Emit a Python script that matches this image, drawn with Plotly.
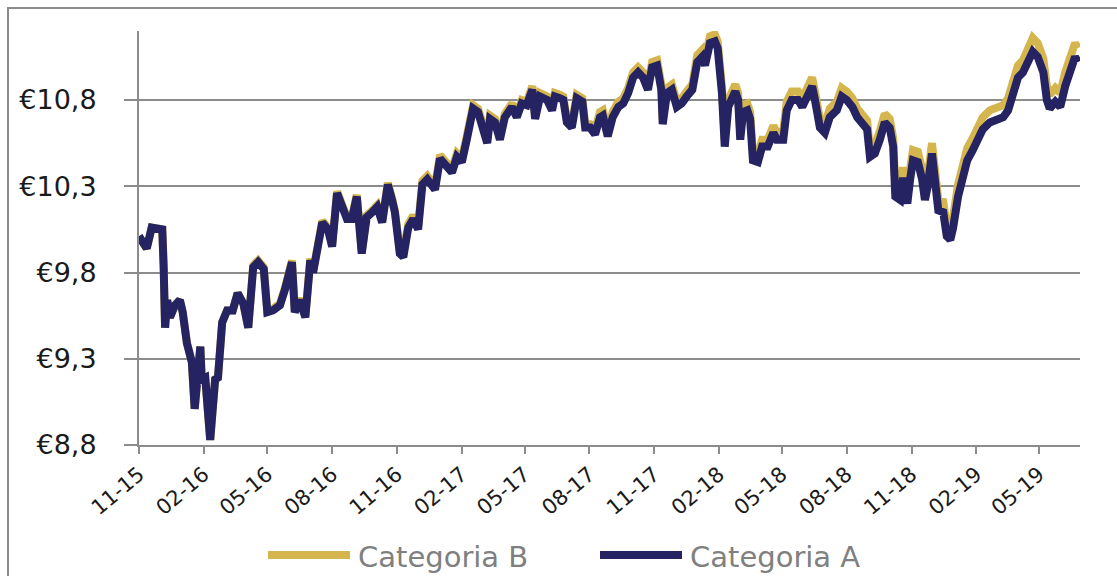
import plotly.graph_objects as go

dates = ["2015-11-01","2015-11-12","2015-11-19","2015-11-28","2015-12-04","2015-12-06","2015-12-08","2015-12-11","2015-12-15","2015-12-22",
"2015-12-29","2016-01-02","2016-01-08","2016-01-15","2016-01-19","2016-01-27","2016-01-29","2016-02-03","2016-02-10","2016-02-17",
"2016-02-21","2016-02-27","2016-03-05","2016-03-13","2016-03-20","2016-03-28","2016-04-04","2016-04-11","2016-04-18","2016-04-26",
"2016-05-01","2016-05-09","2016-05-19","2016-05-26","2016-06-01","2016-06-05","2016-06-09","2016-06-16","2016-06-24","2016-06-28",
"2016-07-01","2016-07-05","2016-07-12","2016-07-18","2016-07-26","2016-08-01","2016-08-08","2016-08-15","2016-08-22","2016-08-29",
"2016-09-05","2016-09-12","2016-09-19","2016-09-27","2016-10-04","2016-10-11","2016-10-19","2016-10-25","2016-10-29","2016-11-05",
"2016-11-10","2016-11-17","2016-11-24","2016-12-01","2016-12-07","2016-12-14","2016-12-21","2016-12-25","2017-01-01","2017-01-08",
"2017-01-18","2017-01-25","2017-02-01","2017-02-08","2017-02-17","2017-02-24","2017-03-03","2017-03-09","2017-03-13","2017-03-20",
"2017-03-27","2017-04-03","2017-04-13","2017-04-20","2017-04-27","2017-05-04","2017-05-12","2017-05-16","2017-05-23","2017-06-02",
"2017-06-09","2017-06-13","2017-06-20","2017-06-25","2017-06-30","2017-07-07","2017-07-14","2017-07-22","2017-07-26","2017-08-02",
"2017-08-09","2017-08-16","2017-08-20","2017-08-27","2017-09-03","2017-09-11","2017-09-18","2017-09-25","2017-10-02","2017-10-09",
"2017-10-16","2017-10-23","2017-10-29","2017-11-05","2017-11-11","2017-11-13","2017-11-19","2017-11-26","2017-12-03","2017-12-10",
"2017-12-17","2017-12-25","2018-01-01","2018-01-08","2018-01-12","2018-01-19","2018-01-26","2018-01-30","2018-02-05","2018-02-07",
"2018-02-09","2018-02-14","2018-02-19","2018-02-24","2018-02-28","2018-03-03","2018-03-07","2018-03-13","2018-03-17","2018-03-21",
"2018-03-28","2018-04-03","2018-04-11","2018-04-19","2018-04-24","2018-05-03","2018-05-08","2018-05-15","2018-05-24","2018-05-30",
"2018-06-06","2018-06-13","2018-06-17","2018-06-24","2018-07-01","2018-07-08","2018-07-18","2018-07-25","2018-08-01","2018-08-09",
"2018-08-16","2018-08-23","2018-08-30","2018-09-03","2018-09-10","2018-09-17","2018-09-24","2018-10-01","2018-10-06","2018-10-09",
"2018-10-16","2018-10-20","2018-10-26","2018-10-30","2018-11-03","2018-11-10","2018-11-16","2018-11-20","2018-11-24","2018-11-30",
"2018-12-04","2018-12-09","2018-12-16","2018-12-21","2018-12-26","2018-12-30","2019-01-06","2019-01-12","2019-01-19","2019-01-27",
"2019-02-03","2019-02-10","2019-02-20","2019-03-02","2019-03-11","2019-03-18","2019-03-25","2019-04-01","2019-04-08","2019-04-15",
"2019-04-22","2019-04-29","2019-05-07","2019-05-12","2019-05-16","2019-05-24","2019-05-31","2019-06-07","2019-06-14","2019-06-21",
"2019-06-25"]

categoria_a = [10.01,9.94,10.06,10.05,10.05,9.83,9.48,9.64,9.54,9.61,
9.64,9.57,9.39,9.28,9.01,9.37,9.18,9.19,8.83,9.18,
9.19,9.51,9.58,9.58,9.68,9.62,9.48,9.83,9.86,9.82,
9.57,9.58,9.61,9.70,9.80,9.86,9.57,9.64,9.54,9.72,
9.87,9.80,9.96,10.09,10.05,9.95,10.26,10.18,10.11,10.11,
10.24,9.91,10.12,10.15,10.18,10.09,10.31,10.22,10.15,9.91,
9.89,10.06,10.11,10.05,10.31,10.34,10.30,10.28,10.46,10.42,
10.38,10.47,10.44,10.57,10.75,10.73,10.64,10.55,10.69,10.67,
10.57,10.70,10.76,10.70,10.78,10.77,10.86,10.69,10.82,10.80,
10.74,10.82,10.81,10.80,10.67,10.64,10.81,10.79,10.64,10.64,
10.60,10.70,10.71,10.59,10.70,10.76,10.78,10.84,10.93,10.96,
10.93,10.86,10.99,11.00,10.86,10.66,10.84,10.86,10.76,10.78,
10.82,10.86,11.02,11.05,11.00,11.13,11.14,11.10,10.84,10.63,
10.53,10.76,10.80,10.85,10.80,10.57,10.73,10.74,10.69,10.45,
10.44,10.53,10.53,10.61,10.57,10.57,10.74,10.80,10.80,10.76,
10.82,10.88,10.80,10.64,10.61,10.70,10.74,10.82,10.80,10.76,
10.70,10.67,10.63,10.47,10.49,10.57,10.67,10.64,10.53,10.24,
10.22,10.35,10.20,10.34,10.45,10.44,10.34,10.22,10.30,10.49,
10.34,10.16,10.15,10.01,9.99,10.06,10.24,10.34,10.45,10.51,
10.57,10.63,10.67,10.69,10.70,10.74,10.82,10.93,10.96,11.03,
11.08,11.05,10.96,10.80,10.75,10.79,10.76,10.88,10.96,11.05,
11.02]

categoria_b = [10.01,9.94,10.06,10.05,10.05,9.83,9.48,9.64,9.54,9.61,
9.64,9.57,9.39,9.28,9.01,9.37,9.18,9.19,8.83,9.18,
9.19,9.51,9.58,9.58,9.68,9.62,9.48,9.84,9.87,9.83,
9.58,9.59,9.62,9.71,9.81,9.87,9.58,9.65,9.55,9.73,
9.88,9.81,9.97,10.10,10.06,9.96,10.27,10.19,10.12,10.12,
10.25,9.92,10.13,10.16,10.19,10.10,10.32,10.23,10.16,9.93,
9.91,10.08,10.13,10.07,10.33,10.36,10.32,10.30,10.48,10.44,
10.40,10.49,10.46,10.59,10.77,10.75,10.66,10.57,10.71,10.69,
10.59,10.72,10.78,10.72,10.80,10.79,10.88,10.71,10.84,10.82,
10.76,10.84,10.83,10.82,10.69,10.66,10.83,10.81,10.66,10.66,
10.63,10.73,10.74,10.62,10.73,10.79,10.81,10.87,10.96,10.99,
10.96,10.89,11.02,11.03,10.89,10.69,10.87,10.89,10.79,10.81,
10.85,10.89,11.06,11.09,11.04,11.17,11.18,11.14,10.88,10.67,
10.57,10.80,10.84,10.89,10.84,10.61,10.77,10.78,10.73,10.49,
10.48,10.57,10.57,10.65,10.61,10.62,10.79,10.85,10.85,10.81,
10.87,10.93,10.85,10.69,10.66,10.75,10.79,10.87,10.85,10.81,
10.75,10.72,10.68,10.52,10.54,10.62,10.72,10.69,10.58,10.30,
10.28,10.41,10.26,10.40,10.51,10.50,10.40,10.28,10.36,10.55,
10.40,10.22,10.21,10.07,10.05,10.12,10.31,10.41,10.52,10.58,
10.64,10.70,10.74,10.76,10.77,10.81,10.89,11.00,11.03,11.10,
11.16,11.13,11.04,10.88,10.83,10.87,10.84,10.96,11.04,11.13,
11.10]

x_tick_dates = ["2015-11-01","2016-02-01","2016-05-01","2016-08-01","2016-11-01","2017-02-01","2017-05-01",
                "2017-08-01","2017-11-01","2018-02-01","2018-05-01","2018-08-01","2018-11-01","2019-02-01","2019-05-01"]
x_tick_labels = ["11-15","02-16","05-16","08-16","11-16","02-17","05-17","08-17","11-17","02-18","05-18",
                 "08-18","11-18","02-19","05-19"]
y_tick_values = [8.8, 9.3, 9.8, 10.3, 10.8]
y_tick_labels = ["€8,8", "€9,3", "€9,8", "€10,3", "€10,8"]
series_names = ["Categoria B", "Categoria A"]
series_colors = ["#D5B64E", "#252361"]

W, H = 1117, 576
L, R, T, B = 139, 37, 31, 131
PW, PH = W - L - R, H - T - B

def px(xp):
    return (xp - L) / PW

def py(yp):
    return (H - B - yp) / PH

fig = go.Figure()
for name, vals, col in zip(series_names, [categoria_b, categoria_a], series_colors):
    fig.add_trace(go.Scatter(x=dates, y=vals, mode="lines", name=name,
                             line=dict(color=col, width=8), showlegend=False))

grid = "#8C8C8C"
fig.update_layout(
    width=W, height=H,
    margin=dict(l=L, r=R, t=T, b=B, pad=0),
    paper_bgcolor="white", plot_bgcolor="white",
    font=dict(family="DejaVu Sans", color="#1A1A1A"),
    xaxis=dict(type="date", range=["2015-11-01", "2019-06-28"],
               tickvals=x_tick_dates, ticktext=x_tick_labels, tickangle=-40,
               tickfont=dict(size=21, family="DejaVu Sans", color="#1A1A1A"),
               showgrid=False, zeroline=False, showline=True, linecolor=grid, linewidth=2,
               ticks="outside", ticklen=7, tickwidth=2, tickcolor=grid),
    yaxis=dict(range=[8.8, 11.2], tickvals=y_tick_values, ticktext=y_tick_labels,
               tickfont=dict(size=27, family="DejaVu Sans", color="#1A1A1A"),
               showgrid=True, gridcolor=grid, gridwidth=2, zeroline=False,
               showline=True, linecolor=grid, linewidth=2,
               ticks="outside", ticklen=13, tickwidth=2, tickcolor=grid,
               ticklabelstandoff=22),
)

# outer chart-area border (cropped on right / bottom in the reference)
fig.add_shape(type="rect", xref="paper", yref="paper",
              x0=px(8), x1=px(1300), y0=py(800), y1=py(8),
              line=dict(color="#8C8C8C", width=2), fillcolor="rgba(0,0,0,0)", layer="below")

# manual legend
leg_items = [(268, 350, 356), (600, 682, 688)]
for (x0, x1, xt), name, col in zip(leg_items, series_names, series_colors):
    fig.add_shape(type="line", xref="paper", yref="paper",
                  x0=px(x0), x1=px(x1), y0=py(555), y1=py(555),
                  line=dict(color=col, width=8))
    fig.add_annotation(x=px(xt), y=py(557), xref="paper", yref="paper", text=name,
                       showarrow=False, xanchor="left", yanchor="middle",
                       font=dict(size=29, family="DejaVu Sans", color="#808080"))

fig.write_html("out.html")
